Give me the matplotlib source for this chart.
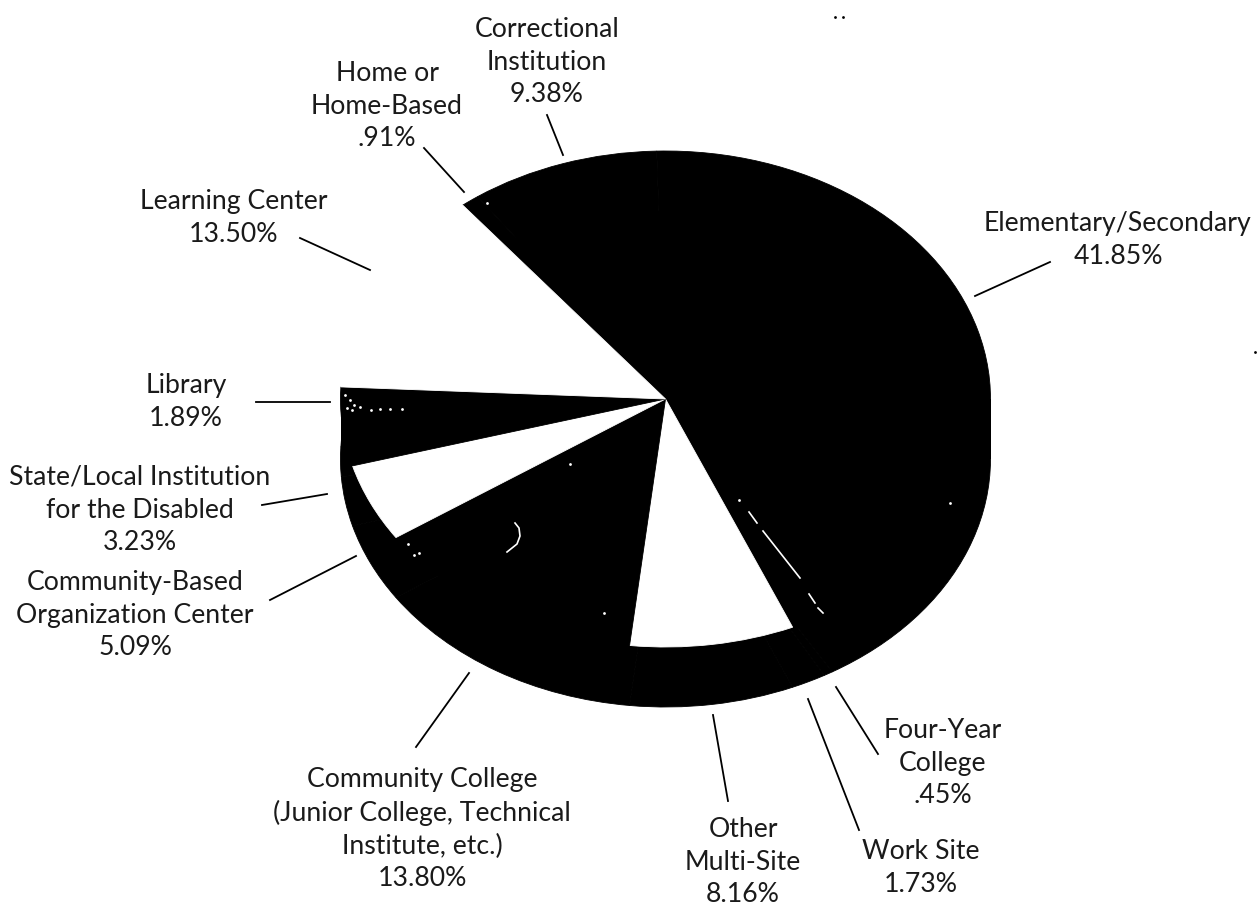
import matplotlib
matplotlib.use("Agg")
import matplotlib.pyplot as plt

# slices clockwise from the Home wedge, percent
labels = ["Home or\nHome-Based\n.91%", "Correctional\nInstitution\n9.38%", "Elementary/Secondary\n41.85%",
          "Four-Year\nCollege\n.45%", "Work Site\n1.73%", "Other\nMulti-Site\n8.16%",
          "Community College\n(Junior College, Technical\nInstitute, etc.)\n13.80%",
          "Community-Based\nOrganization Center\n5.09%", "State/Local Institution\nfor the Disabled\n3.23%",
          "Library\n1.89%", "Learning Center\n13.50%"]
values = [0.91, 9.38, 41.85, 0.45, 1.73, 8.16, 13.80, 5.09, 3.23, 1.89, 13.50]
colors = ["black", "black", "black", "black", "black", "white", "black", "white", "black", "black", "white"]

# label centres and leader lines, in picture pixels
label_pos = [(387, 106), (547, 62), (1118, 240), (943, 763), (921, 868), (743, 862), (422, 829), (135, 615), (140, 510),
             (186, 402), (234, 218)]
leaders = [((424, 148), (464, 192)), ((547, 115), (563, 155)), ((1050, 262), (975, 296)),
           ((836, 687), (878, 754)), ((808, 699), (859, 830)), ((713, 715), (728, 801)),
           ((416, 747), (469, 673)), ((270, 600), (356, 556)), ((262, 505), (327, 494)),
           ((256, 402), (330, 402)), ((300, 238), (370, 270))]

# scanner specks and scratches on the black, picture pixels
scratches = [[(515, 523), (519, 528), (520, 536), (517, 544), (507, 552)], [(749, 512), (757, 523)],
             [(763, 531), (800, 578)], [(809, 594), (815, 603)], [(818, 608), (823, 613)]]
specks = [(739, 500), (452, 491), (570, 464), (604, 613), (419, 553), (414, 555), (408, 544), (950, 503), (345, 395),
          (350, 400), (354, 405), (347, 408), (352, 410), (360, 407), (371, 410), (380, 409), (390, 409), (402, 409),
          (487, 203), (835, 17), (843, 17), (1255, 352)]

plt.rcParams['font.family'] = ['Lato', 'DejaVu Sans']
W, H = 1258, 906
cx, cy, rx, ry, depth = 665.5, 399, 325, 248, 60

fig = plt.figure(figsize=(W / 100, H / 100), dpi=100)
ax = fig.add_axes([0, 0, 1, 1])

# extruded side first, then the top face
side = depth / ry
ax.pie(values, colors=["black"] * len(values), startangle=128.6, counterclock=False, center=(0, -side),
       wedgeprops={"linewidth": 0.6, "edgecolor": "black", "zorder": 1})
ax.add_patch(plt.Rectangle((-1, -side), 2, side, color="black", lw=0, zorder=1))
wedges, _ = ax.pie(values, colors=colors, startangle=128.6, counterclock=False, wedgeprops={"zorder": 2})
# black edges close the seams between neighbouring black wedges
for w, c in zip(wedges, colors):
    w.set_edgecolor(c)
    w.set_linewidth(0.6)
ax.set_aspect("auto")
ax.set_xlim(-cx / rx, (W - cx) / rx)
ax.set_ylim((cy - H) / ry, cy / ry)
ax.axis("off")

over = fig.add_axes([0, 0, 1, 1])
over.set_xlim(0, W)
over.set_ylim(H, 0)
over.axis("off")
for text, pos in zip(labels, label_pos):
    over.text(pos[0], pos[1], text, ha="center", va="center", fontsize=19.2, linespacing=1.38, color="#1a1a1a")
for a, b in leaders:
    over.plot([a[0], b[0]], [a[1], b[1]], color="black", lw=1.3)
for s in scratches:
    over.plot([p[0] for p in s], [p[1] for p in s], color="white", lw=1.2)
for i, p in enumerate(specks):
    # the last three sit on the paper, not on the black
    over.plot(p[0], p[1], "o", ms=2, mew=0, color="black" if i >= len(specks) - 3 else "white")

fig.savefig("out.png", dpi=100)
